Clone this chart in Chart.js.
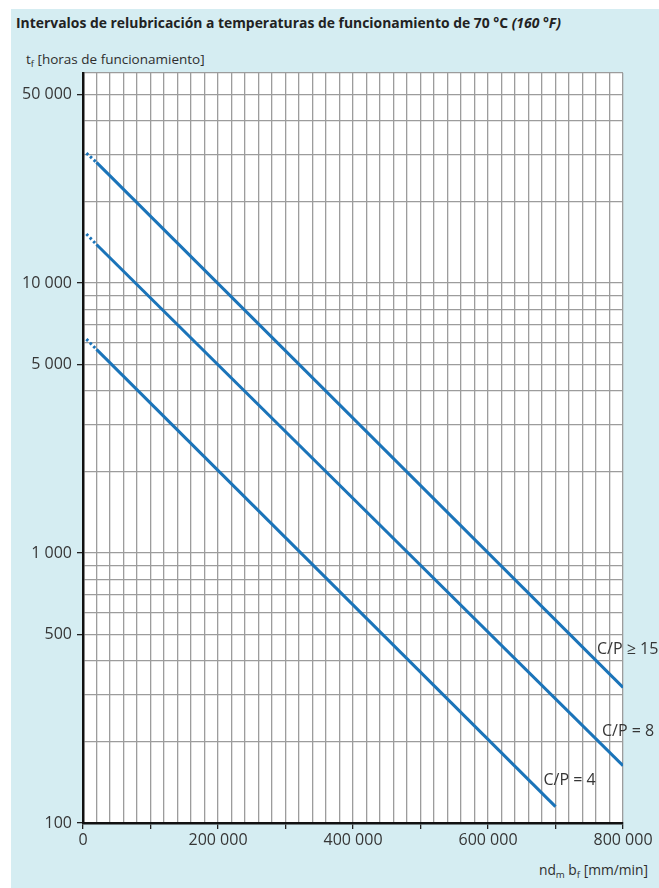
<!DOCTYPE html>
<html lang="es">
<head>
<meta charset="utf-8">
<title>Intervalos de relubricación</title>
<script src="https://cdn.jsdelivr.net/npm/chart.js@4.4.1/dist/chart.umd.min.js"></script>
<style>
  html, body { margin: 0; padding: 0; background: #fff; }
  body { width: 659px; height: 888px; position: relative; overflow: hidden; font-family: "Open Sans", sans-serif; color: #2e2e2e; }
  #panel { position: absolute; left: 11px; top: 9px; right: 0; bottom: 0; background: #d5edf2; }
  #chart { position: absolute; left: 0; top: 0; }
  .title { position: absolute; left: 16px; top: 13px; font-size: 13.9px; font-weight: 700; white-space: nowrap; color: #222; }
  .ytitle { position: absolute; left: 26px; top: 50px; font-size: 13.5px; white-space: nowrap; }
  .xtitle { position: absolute; right: 11px; top: 860px; font-size: 13.8px; white-space: nowrap; }
  sub { font-size: 70%; vertical-align: -3px; line-height: 0; }
</style>
</head>
<body>
<div id="panel"></div>
<div class="title">Intervalos de relubricación a temperaturas de funcionamiento de 70 °C <i>(160 °F)</i></div>
<div class="ytitle">t<sub>f</sub> [horas de funcionamiento]</div>
<div class="xtitle">nd<sub>m</sub> b<sub>f</sub> [mm/min]</div>
<canvas id="chart" width="659" height="888"></canvas>
<script>
// curvas: nd_m b_f [mm/min] -> t_f [h]; el primer tramo es punteado
const nd15 = [5000, 20000, 800000];
const tf15 = [30300, 28000, 318];
const nd8 = [5000, 20000, 800000];
const tf8 = [15200, 13900, 163];
const nd4 = [5000, 20000, 700000];
const tf4 = [6200, 5680, 115];
const curveNames = ["C/P ≥ 15", "C/P = 8", "C/P = 4"];

// ejes
const yGrid = [100, 200, 300, 400, 500, 600, 700, 800, 900,
               1000, 2000, 3000, 4000, 5000, 6000, 7000, 8000, 9000,
               10000, 20000, 30000, 40000, 50000, 60000];
const yLabels = [100, 500, 1000, 5000, 10000, 50000];
const xLabels = [0, 200000, 400000, 600000, 800000];
const xMax = 800000;
const xGridStep = 20000;
const xTickStep = 100000;

const FONT = "'Open Sans', sans-serif";
const BLUE = "#1b74b9";
const GRID = "#9c9c9c";
const TEXT = "#363636";

// desplazamiento de cada rótulo respecto al final de su curva (px)
const labelOffsets = [[-26, -38], [-21, -34], [-12, -26]];

const fmt = v => String(v).replace(/\B(?=(\d{3})+(?!\d))/g, " ");
const pts = (xs, ys) => xs.map((x, i) => ({ x: x, y: ys[i] }));

const xGrid = [];
for (let v = 0; v <= xMax; v += xGridStep) xGrid.push(v);

const areaFondo = {
    id: "areaFondo",
    beforeDraw(chart) {
        const a = chart.chartArea;
        chart.ctx.save();
        chart.ctx.fillStyle = "#fff";
        chart.ctx.fillRect(a.left, a.top, a.right - a.left, a.bottom - a.top);
        chart.ctx.restore();
    }
};

const rotulos = {
    id: "rotulos",
    afterDatasetsDraw(chart) {
        const ctx = chart.ctx;
        ctx.save();
        ctx.font = "16px " + FONT;
        ctx.fillStyle = TEXT;
        ctx.textAlign = "left";
        ctx.textBaseline = "middle";
        chart.data.datasets.forEach((ds, i) => {
            const last = ds.data[ds.data.length - 1];
            const px = chart.scales.x.getPixelForValue(last.x);
            const py = chart.scales.y.getPixelForValue(last.y);
            ctx.fillText(curveNames[i], px + labelOffsets[i][0], py + labelOffsets[i][1]);
        });
        ctx.restore();
    }
};

const curva = (xs, ys) => ({
    data: pts(xs, ys),
    showLine: true,
    borderColor: BLUE,
    borderWidth: 3,
    pointRadius: 0,
    fill: false,
    segment: {
        borderDash: c => c.p0DataIndex === 0 ? [2.5, 2.5] : undefined
    }
});

new Chart(document.getElementById("chart"), {
    type: "scatter",
    data: {
        datasets: [curva(nd15, tf15), curva(nd8, tf8), curva(nd4, tf4)]
    },
    options: {
        responsive: false,
        animation: false,
        layout: { padding: { top: 73, right: 36, bottom: 25, left: 0 } },
        plugins: {
            legend: { display: false },
            tooltip: { enabled: false }
        },
        scales: {
            x: {
                type: "linear",
                min: 0,
                max: xMax,
                afterBuildTicks: s => { s.ticks = xGrid.map(v => ({ value: v })); },
                afterFit: s => { s.height = 40; },
                ticks: {
                    autoSkip: false,
                    maxRotation: 0,
                    padding: 2,
                    color: TEXT,
                    font: { family: FONT, size: 16 },
                    callback: v => xLabels.includes(v) ? fmt(v) : ""
                },
                grid: {
                    color: GRID,
                    lineWidth: 1.3,
                    tickLength: 6,
                    tickColor: c => c.tick && c.tick.value % xTickStep === 0 ? "#222" : "rgba(0,0,0,0)"
                },
                border: { color: "#111", width: 2.5 }
            },
            y: {
                type: "logarithmic",
                min: 100,
                max: 60000,
                afterBuildTicks: s => { s.ticks = yGrid.map(v => ({ value: v })); },
                afterFit: s => { s.width = 83; },
                ticks: {
                    autoSkip: false,
                    padding: 5,
                    color: TEXT,
                    font: { family: FONT, size: 16 },
                    callback: v => yLabels.includes(v) ? fmt(v) : ""
                },
                grid: {
                    color: GRID,
                    lineWidth: 1.3,
                    tickLength: 6,
                    tickColor: c => c.tick && yLabels.includes(c.tick.value) ? "#222" : "rgba(0,0,0,0)"
                },
                border: { color: "#111", width: 2.5 }
            }
        }
    },
    plugins: [areaFondo, rotulos]
});
</script>
</body>
</html>
